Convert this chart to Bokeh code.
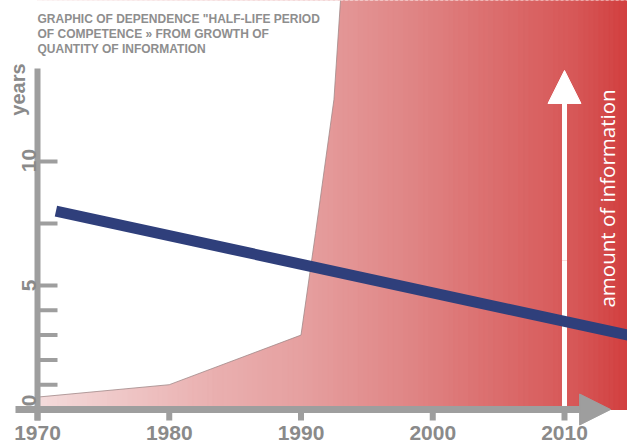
import numpy as np
from bokeh.plotting import figure
from bokeh.models import Range1d, Arrow, NormalHead, Label
from bokeh.core.properties import value
from bokeh.embed import file_html
from bokeh.resources import INLINE

# ---- data ----
info_years = [1970, 1980, 1990, 1991.1, 1992.5, 1993.0]
info_values = [0.5, 1.0, 3.0, 7.1, 12.5, 16.5]

halflife_years = [1971.4, 2015.0]
halflife_values = [8.0, 2.98]

x_ticks = [1970, 1980, 1990, 2000, 2010]
x_labels = ["1970", "1980", "1990", "2000", "2010"]
y_ticks = [1, 2, 3, 4, 5, 7.5, 10]
y_label_values = [0, 5, 10]
y_labels = ["0", "5", "10"]

title_lines = ['GRAPHIC OF DEPENDENCE  "HALF-LIFE PERIOD',
               'OF COMPETENCE \u00bb FROM GROWTH OF',
               'QUANTITY OF INFORMATION']

# ---- figure ----
W, H = 627, 446
PX_YEAR = 13.175
PX_UNIT = 24.8
X0 = 1970 - 37 / PX_YEAR
X1 = X0 + W / PX_YEAR
Y1 = 409 / PX_UNIT
Y0 = Y1 - H / PX_UNIT
p = figure(width=W, height=H, x_range=Range1d(X0, X1), y_range=Range1d(Y0, Y1),
           output_backend="svg", toolbar_location=None,
           x_axis_type=None, y_axis_type=None, min_border=0)
p.outline_line_color = None
p.xgrid.visible = False
p.ygrid.visible = False
p.background_fill_color = "white"
p.border_fill_color = "white"

GRAY = "#9e9e9e"
TXT = "#8a8a8a"

def dx(px):
    return px / PX_YEAR

def dy(px):
    return px / PX_UNIT

# gradient fill of the information area (horizontal gradient)
stops_t = [0.0, 0.30, 0.45, 0.63, 0.80, 0.91, 1.0]
stops_c = [(0xf4, 0xdc, 0xdc), (0xea, 0xb0, 0xb0), (0xe6, 0xa0, 0xa0),
           (0xe0, 0x86, 0x86), (0xdb, 0x6a, 0x6a), (0xd7, 0x58, 0x58), (0xd2, 0x40, 0x40)]
edges = np.linspace(info_years[0], X1 + 0.5, 120)
mids = (edges[:-1] + edges[1:]) / 2
tt = np.clip((mids - info_years[0]) / (X1 - info_years[0]), 0, 1)
cols = []
for t in tt:
    r = np.interp(t, stops_t, [c[0] for c in stops_c])
    g = np.interp(t, stops_t, [c[1] for c in stops_c])
    b = np.interp(t, stops_t, [c[2] for c in stops_c])
    cols.append("#%02x%02x%02x" % (int(r), int(g), int(b)))
p.quad(left=edges[:-1], right=edges[1:] + 0.1, bottom=0, top=Y1 + 1,
       fill_color=cols, line_color=cols, line_width=1)

# white mask above the information curve
mask_x = info_years + [info_years[-1], X0 - 1, X0 - 1]
mask_y = info_values + [Y1 + 1, Y1 + 1, info_values[0]]
p.patch(mask_x, mask_y, fill_color="white", line_color=None)
p.line(info_years, info_values, line_color="#a08888", line_width=1, line_alpha=0.8)

# white arrow shaft (below the blue line)
p.segment(x0=[x_ticks[-1]], y0=[0], x1=[x_ticks[-1]], y1=[6], line_color="white",
          line_width=5)

# half-life line
p.line(halflife_years, halflife_values, line_color="#2f3f7b", line_width=11, line_cap="butt")

# y axis
p.segment(x0=[x_ticks[0]], y0=[-dy(11)], x1=[x_ticks[0]], y1=[13.75], line_color=GRAY,
          line_width=6)
p.ray(x=[x_ticks[0]] * len(y_ticks), y=y_ticks, length=20, length_units="screen",
      angle=0, line_color=GRAY, line_width=4)
# x ticks
p.ray(x=x_ticks, y=[0] * len(x_ticks), length=11, length_units="screen",
      angle=-np.pi / 2, line_color=GRAY, line_width=6)

# x tick labels
p.text(x=x_ticks, y=[0] * len(x_ticks), text=x_labels, text_font=value("Liberation Sans"),
       text_font_style="bold", text_font_size=value("21px"), text_color=TXT,
       text_align="center", text_baseline="top", y_offset=16)
# y tick labels (rotated)
ylab_y = [v + dy(d) for v, d in zip(y_label_values, [9, 0, 1])]
p.text(x=[x_ticks[0] - dx(8.5)] * 3, y=ylab_y, text=y_labels, angle=np.pi / 2,
       text_font=value("Liberation Sans"), text_font_style="bold",
       text_font_size=value("21px"), text_color=TXT, text_align="center",
       text_baseline="middle")

# white arrow head
p.add_layout(Arrow(end=NormalHead(size=33, fill_color="white", line_color="white"),
                   x_start=x_ticks[-1], y_start=6, x_end=x_ticks[-1], y_end=13.67,
                   line_color="white", line_width=5))
# x axis with arrow
p.add_layout(Arrow(end=NormalHead(size=31, fill_color=GRAY, line_color=GRAY),
                   x_start=x_ticks[0] - dx(22), y_start=0, x_end=2013.5, y_end=0,
                   line_color=GRAY, line_width=7))

# texts
p.add_layout(Label(x=x_ticks[-1] + dx(42), y=dy(409 - 198), angle=np.pi / 2,
                   text="amount of information", text_font="Open Sans",
                   text_font_size="20.5px", text_color="white",
                   text_align="center", text_baseline="middle"))
p.add_layout(Label(x=x_ticks[0] - dx(20), y=dy(409 - 89), angle=np.pi / 2,
                   text="years", text_font="Liberation Sans", text_font_style="bold",
                   text_font_size="20px", text_color=TXT,
                   text_align="center", text_baseline="middle"))
for i, line in enumerate(title_lines):
    p.add_layout(Label(x=x_ticks[0], y=dy(409 - 11 - 15 * i), text=line,
                       text_font="Liberation Sans", text_font_style="bold",
                       text_font_size="12px", text_color="#8e8e8e",
                       text_align="left", text_baseline="top"))

open("out.html", "w").write(file_html(p, INLINE))
